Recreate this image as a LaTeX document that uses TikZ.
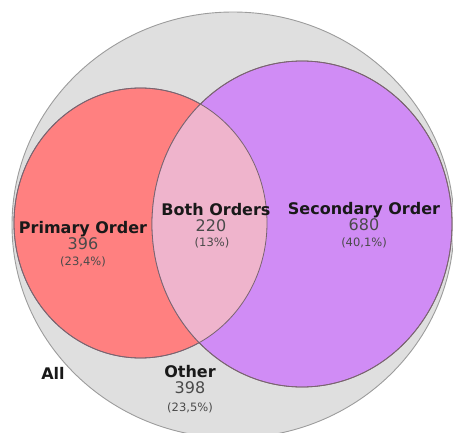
\documentclass[tikz,border=0pt]{standalone}
\usepackage{fontspec}
\setmainfont{DejaVu Sans}
\usepackage{tikz}
\usetikzlibrary{positioning}
\definecolor{allfill}{HTML}{DFDFDF}
\definecolor{allline}{HTML}{9C9C9C}
\definecolor{primfill}{HTML}{FF8080}
\definecolor{secfill}{HTML}{D08CF5}
\definecolor{bothfill}{HTML}{EFB4CC}
\definecolor{setline}{HTML}{7A6470}
\definecolor{numtext}{HTML}{4A4A4A}
\tikzset{
  setname/.style={font=\fontsize{16}{16}\selectfont\bfseries, text=black!90,
                  inner sep=0pt, text height=11.7pt, text depth=3.8pt},
  setcount/.style={font=\fontsize{16}{16}\selectfont, text=numtext,
                   inner sep=0pt, text height=11.7pt, text depth=0pt},
  setshare/.style={font=\fontsize{11.5}{11.5}\selectfont, text=numtext,
                   inner sep=0pt, text height=8.8pt, text depth=1.5pt},
}

\begin{document}
\begin{tikzpicture}[x=1pt, y=1pt, node distance=0pt]
  \useasboundingbox (0,0) rectangle (453,432);
  \clip (0,0) rectangle (453,432);
  % the three sets
  \fill[allfill, draw=allline, line width=0.9pt] (233,207) ellipse [x radius=221, y radius=213];
  \fill[primfill, draw=setline, line width=0.8pt] (140.5,209) ellipse [x radius=126.5, y radius=135];
  \fill[secfill, draw=setline, line width=0.8pt] (302,208) ellipse [x radius=150, y radius=163];
  \begin{scope}
    \clip (140.5,209) ellipse [x radius=126.5, y radius=135];
    \fill[bothfill] (302,208) ellipse [x radius=150, y radius=163];
  \end{scope}
  \draw[setline, line width=0.8pt] (140.5,209) ellipse [x radius=126.5, y radius=135];
  \draw[setline, line width=0.8pt] (302,208) ellipse [x radius=150, y radius=163];

  % labels
  \node[setname] (prim) at (83,202.6) {Primary Order};
  \node[setcount, below=of prim] (primn) {396};
  \node[setshare, below=7pt of primn] (primp) {(23,4\%)};

  \node[setname] (both) at (216,220.6) {Both Orders};
  \node[setcount, below=of both, xshift=-5pt] (bothn) {220};
  \node[setshare, below=5.7pt of bothn, xshift=1pt] (bothp) {(13\%)};

  \node[setname] (sec) at (364,221.6) {Secondary Order};
  \node[setcount, below=of sec] (secn) {680};
  \node[setshare, below=7pt of secn] (secp) {(40,1\%)};

  \node[setname] (all) at (53,56.1) {All};
  \node[setname] (oth) at (190,58.1) {Other};
  \node[setcount, below=of oth] (othn) {398};
  \node[setshare, below=9pt of othn] (othp) {(23,5\%)};
\end{tikzpicture}
\end{document}
